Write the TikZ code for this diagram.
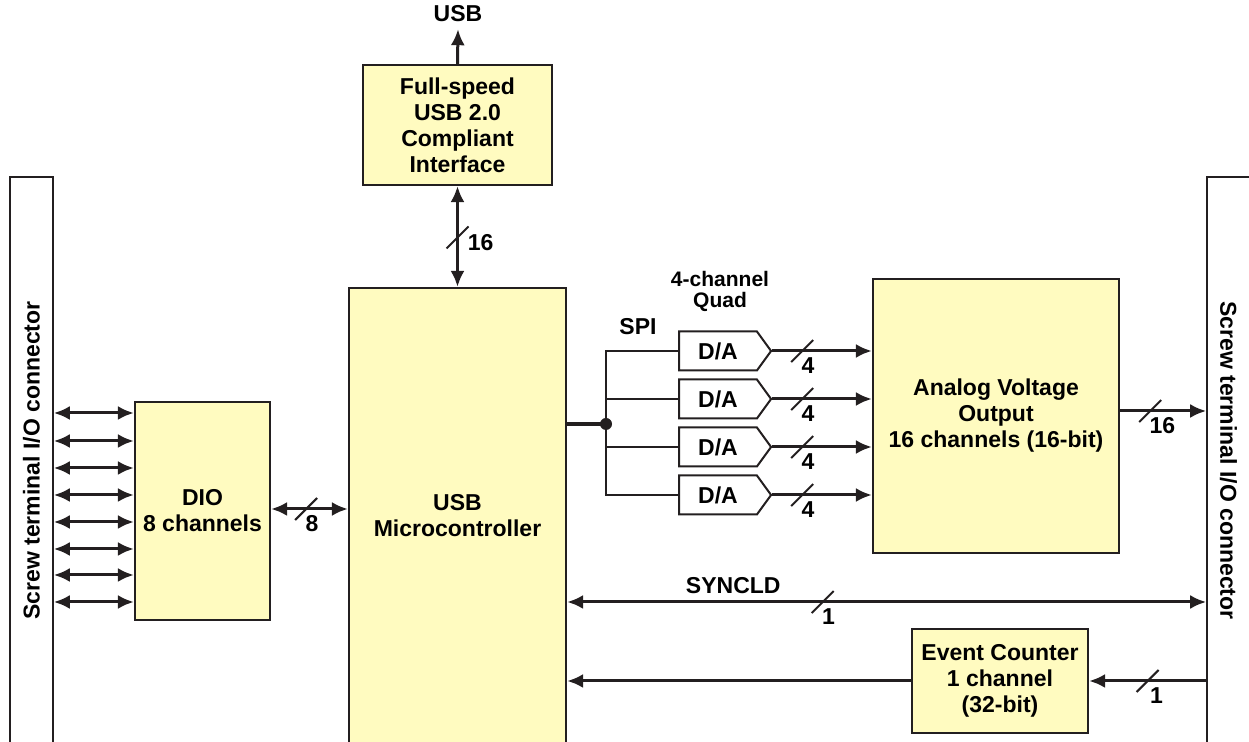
\documentclass[tikz,border=0pt]{standalone}
\usepackage{fontspec}
\setmainfont{Liberation Sans}
\usetikzlibrary{shapes.symbols, arrows.meta}

\definecolor{boxfill}{RGB}{255,251,192}
\definecolor{ink}{RGB}{35,31,32}

\tikzset{
	block/.style={draw=ink, line width=1.1pt, fill=boxfill, align=center, inner sep=2pt},
	connbar/.style={draw=ink, line width=0.8pt},
	dac/.style={draw=ink, line width=1pt, signal, signal to=east, signal pointer angle=108,
		minimum width=46pt, minimum height=19.5pt, inner sep=0pt},
	sig/.style={draw=ink, line width=1.5pt, -{Latex[length=8pt,width=7pt]}},
	bidir/.style={sig, {Latex[length=8pt,width=7pt]}-{Latex[length=8pt,width=7pt]}},
	spiline/.style={draw=ink, line width=0.8pt},
	spibus/.style={draw=ink, line width=1.6pt},
	busslash/.style={draw=ink, line width=1pt},
	buslabel/.style={anchor=north west, inner sep=0pt}
}

% bus width mark: position, label offset, label
\newcommand{\busmark}[3]{%
	\draw[busslash] ([shift={(-11,11)}]#1) -- ([shift={(11,-11)}]#1);
	\node[buslabel] at ([shift={(#2)}]#1) {#3};}

\begin{document}
\begin{tikzpicture}[x=0.5pt, y=-0.5pt, font=\fontsize{11.5}{13}\selectfont\bfseries]
	\useasboundingbox (0,0) rectangle (1249,742);

	% connectors
	\node[connbar, minimum width=21.5pt, minimum height=283.5pt] (conL) at (31.5,460.5) {};
	\node[rotate=90] at (conL) {Screw terminal I/O connector};
	\node[connbar, minimum width=21.5pt, minimum height=283.5pt] (conR) at (1228.5,460.5) {};
	\node[rotate=-90] at (conR) {Screw terminal I/O connector};

	% blocks
	\node[block, minimum width=94.5pt, minimum height=60pt] (usbif) at (457.5,125) {Full-speed\\USB 2.0\\Compliant\\Interface};
	\node[block, minimum width=108.5pt, minimum height=228pt] (micro) at (457.5,516) {USB\\Microcontroller};
	\node[block, minimum width=67.5pt, minimum height=109pt] (dio) at (202.5,511) {DIO\\8 channels};
	\node[block, minimum width=123pt, minimum height=137pt] (avo) at (996,416) {Analog Voltage\\Output\\16 channels (16-bit)};
	\node[block, minimum width=88pt, minimum height=52pt] (evc) at (1000,681) {Event Counter\\1 channel\\(32-bit)};

	% usb
	\node (usbout) at (458,14) {USB};
	\draw[sig] (usbif.north) -- (usbout.south);
	\draw[bidir] (usbif.south) -- (micro.north) coordinate[pos=0.51] (b16);
	\busmark{b16}{10,-3}{16}

	% digital io
	\foreach \y in {413,441,468,495,522,549,575,602}
		\draw[bidir] (conL.east |- 0,\y) -- (dio.west |- 0,\y);
	\draw[bidir] (dio.east |- 0,509) -- (micro.west |- 0,509) coordinate[pos=0.456] (b8);
	\busmark{b8}{-1,6}{8}

	% spi and d/a
	\coordinate (junc) at (606,424);
	\draw[spibus] (micro.east |- junc) -- (junc);
	\node at (638,327) {SPI};
	\node[align=center, font=\fontsize{10.5}{10.5}\selectfont\bfseries] at (720,291) {4-channel\\Quad};
	\foreach \i/\y in {1/351,2/399,3/447,4/495} {
		\node[dac] (da\i) at (718,\y) {D/A};
		\draw[spiline] (junc) |- (da\i.west);
		\draw[sig] (da\i.east) -- (avo.west |- da\i.east) coordinate[pos=0.3] (b4\i);
		\busmark{b4\i}{-1,6}{4}
	}
	\fill[ink] (junc) circle (3pt);

	% analog out
	\draw[sig] (avo.east |- 0,411) -- (conR.west |- 0,411) coordinate[pos=0.35] (bavo);
	\busmark{bavo}{-1,6}{16}

	% syncld
	\draw[bidir] (micro.east |- 0,602) -- (conR.west |- 0,602) coordinate[pos=0.40] (bsync)
		node[above, pos=0.26] {SYNCLD};
	\busmark{bsync}{-1,6}{1}

	% event counter
	\draw[sig] (conR.west |- evc.east) -- (evc.east) coordinate[pos=0.5] (bevc);
	\busmark{bevc}{2,6}{1}
	\draw[sig] (evc.west) -- (micro.east |- evc.west);
\end{tikzpicture}
\end{document}
